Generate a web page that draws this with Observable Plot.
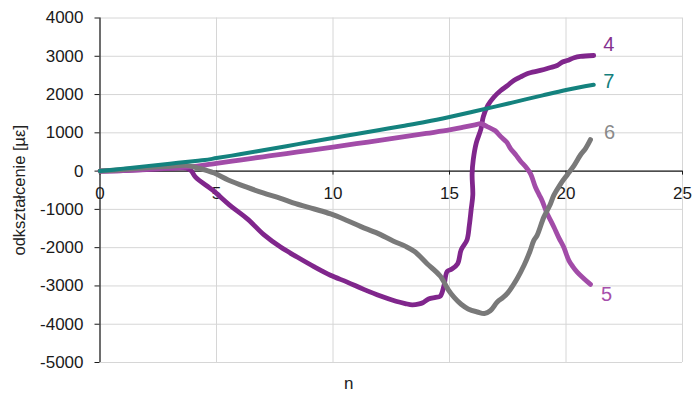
<!DOCTYPE html>
<html>
<head>
<meta charset="utf-8">
<script src="https://cdn.jsdelivr.net/npm/d3@7"></script>
<script src="https://cdn.jsdelivr.net/npm/@observablehq/plot@0.6"></script>
<style>
  html, body { margin: 0; padding: 0; background: #fff; }
  svg { display: block; }
</style>
</head>
<body>
<div id="chart"></div>
<script>
// ---- data ----
const xTicks = [0, 5, 10, 15, 20, 25];
const yTicks = [-5000, -4000, -3000, -2000, -1000, 0, 1000, 2000, 3000, 4000];
const seriesNames = ["4", "5", "6", "7"];
const seriesColors = ["#80268c", "#a24ca8", "#797979", "#14827e"];
const labelColors = ["#85308f", "#a650ac", "#8a8a8a", "#157f7d"];

// series 4 (dark purple): [n, strain]
const s4 = [[0,0],[1,15],[2,40],[3,70],[3.7,80],[3.9,20],[4.1,-155],[4.85,-505],[5.55,-880],[6.35,-1260],
  [7.03,-1660],[7.75,-1985],[8.46,-2245],[9.18,-2495],[9.89,-2720],[10.61,-2900],[11.32,-3090],[12.04,-3265],
  [12.7,-3400],[13.1,-3460],[13.4,-3495],[13.7,-3470],[13.85,-3440],[14.1,-3340],[14.4,-3300],[14.6,-3270],
  [14.76,-3000],[14.9,-2620],[15.1,-2560],[15.35,-2420],[15.5,-2060],[15.75,-1800],[15.85,-1420],[15.93,-1000],
  [16.0,-620],[15.97,-80],[16.02,300],[16.15,740],[16.35,1100],[16.45,1420],[16.65,1720],[16.9,1930],
  [17.2,2105],[17.5,2240],[17.76,2370],[18.05,2460],[18.33,2545],[18.9,2630],[19.3,2700],[19.62,2760],
  [19.85,2850],[20.05,2890],[20.35,2960],[20.62,2995],[21.19,3020]];

// series 5 (light purple)
const s5 = [[0,0],[1,15],[2,45],[3,80],[3.8,110],[5,205],[6,290],[7,375],[8,460],[9,540],[10,625],[11,715],
  [12,805],[13,895],[14,985],[15,1075],[15.6,1150],[16.1,1210],[16.35,1240],[16.6,1170],[16.95,1060],[17.2,900],
  [17.45,760],[17.62,590],[17.85,420],[18.05,260],[18.3,90],[18.48,-70],[18.69,-420],[18.85,-620],[18.98,-780],
  [19.19,-1110],[19.35,-1300],[19.48,-1460],[19.7,-1750],[19.9,-1985],[20.12,-2330],[20.3,-2500],[20.48,-2640],
  [20.75,-2800],[21.05,-2960]];

// series 6 (gray)
const s6 = [[0,0],[1,40],[2,90],[3,130],[3.7,150],[4.2,80],[4.9,-50],[5.5,-230],[6.3,-420],[7,-570],[7.75,-710],
  [8.4,-850],[9.2,-990],[9.9,-1120],[10.6,-1290],[11.2,-1450],[11.9,-1620],[12.6,-1830],[13.1,-1960],[13.5,-2100],
  [14.04,-2420],[14.6,-2740],[14.95,-3100],[15.2,-3300],[15.5,-3480],[15.8,-3600],[16.2,-3680],[16.5,-3720],
  [16.75,-3650],[17.05,-3420],[17.3,-3300],[17.5,-3180],[17.9,-2810],[18.2,-2460],[18.45,-2100],[18.62,-1810],
  [18.76,-1680],[19.05,-1200],[19.3,-900],[19.48,-630],[19.75,-350],[20.05,-100],[20.35,150],[20.62,420],
  [20.85,600],[21.05,820]];

// series 7 (teal)
const s7 = [[0,0],[1,65],[2,130],[3,195],[4,260],[4.5,290],[5,340],[6,440],[7,545],[8,650],[9,760],[10,865],
  [11,970],[12,1075],[13,1180],[14,1290],[15,1415],[16,1550],[17,1690],[18,1835],
  [19,1980],[20,2120],[21.19,2258]];

const seriesData = [s4, s5, s6, s7];
const strokeWidths = [4.8, 4.8, 5, 4];
// label offsets (pixels) from the last point of each series
const labelDx = [15, 16, 19, 15];
const labelDy = [-10.5, 10, -7, -3];

const rows = seriesData.flatMap((s, k) => s.map(([n, v], i) => ({series: seriesNames[k], n, v, i})));
const lastRows = seriesData.map((s, k) => ({series: seriesNames[k], k, n: s[s.length-1][0], v: s[s.length-1][1]}));
const colorOf = Object.fromEntries(seriesNames.map((s, k) => [s, seriesColors[k]]));
const widthOf = Object.fromEntries(seriesNames.map((s, k) => [s, strokeWidths[k]]));

const font = "'Liberation Sans', Arial, sans-serif";

const marks = [
  Plot.ruleX(xTicks, {stroke: "#d6d6d6", strokeWidth: 1}),
  Plot.ruleY(yTicks, {stroke: "#d6d6d6", strokeWidth: 1}),
  Plot.ruleY([0], {stroke: "#1a1a1a", strokeWidth: 1.2}),
  Plot.ruleX([0], {stroke: "#1a1a1a", strokeWidth: 1.2}),
  Plot.ruleX(xTicks, {y1: 0, y2: 0, insetBottom: -4, stroke: "#1a1a1a"}),
  Plot.ruleY(yTicks, {x1: 0, x2: 0, insetLeft: -5, stroke: "#1a1a1a"}),
  Plot.text(yTicks, {x: 0, y: d => d, text: d => String(d), dx: -16.5, textAnchor: "end", fontSize: 17, fill: "#1a1a1a"}),
  Plot.text(xTicks, {x: d => d, y: 0, text: d => String(d), dy: 22, fontSize: 17, fill: "#1a1a1a"}),
];
seriesNames.forEach((name, k) => {
  marks.push(Plot.line(rows.filter(r => r.series === name), {
    x: "n", y: "v", stroke: colorOf[name], strokeWidth: widthOf[name],
    strokeLinejoin: "round", strokeLinecap: "round", curve: "catmull-rom"
  }));
});
lastRows.forEach(r => {
  marks.push(Plot.text([r], {x: "n", y: "v", text: "series", dx: labelDx[r.k], dy: labelDy[r.k],
    fill: labelColors[r.k], fontSize: 20}));
});
marks.push(Plot.text(["odkształcenie [µε]"], {frameAnchor: "left", textAnchor: "middle", text: d => d, rotate: -90, dx: -80.5, fontSize: 16.5, fill: "#222"}));
marks.push(Plot.text(["n"], {frameAnchor: "bottom", textAnchor: "middle", text: d => d, dx: -42.5, dy: 14, lineAnchor: "top", fontSize: 17, fill: "#222"}));

const chart = Plot.plot({
  width: 693, height: 393,
  marginLeft: 99.5, marginRight: 11, marginTop: 17.5, marginBottom: 31,
  x: {domain: [0, 25], axis: null},
  y: {domain: [-5000, 4000], axis: null},
  style: {fontFamily: font, background: "white", overflow: "visible"},
  marks
});
document.getElementById("chart").appendChild(chart);
</script>
</body>
</html>
